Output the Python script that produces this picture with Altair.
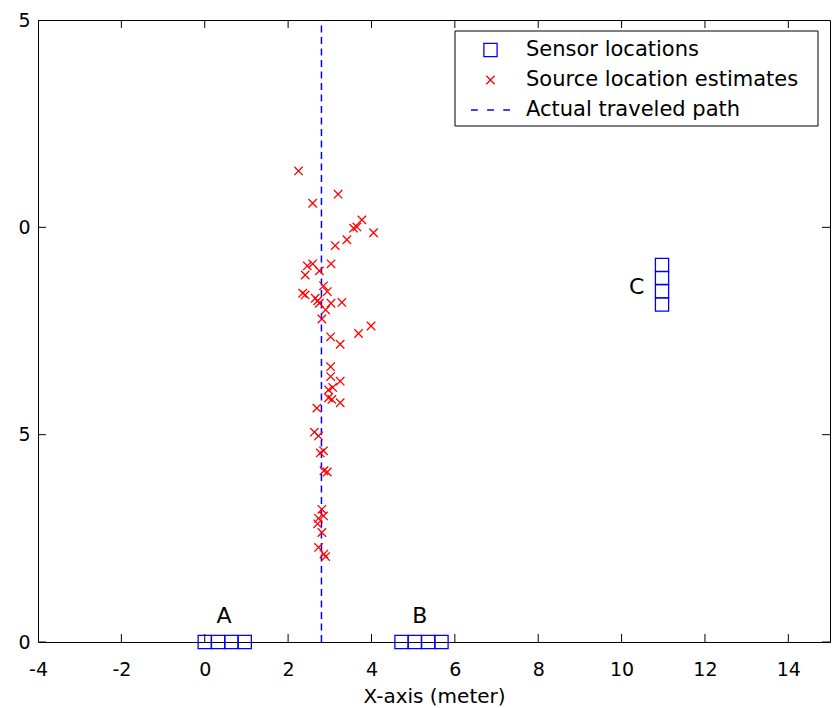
import altair as alt
import pandas as pd

FONT = "DejaVu Sans"

# Sensor arrays: A and B lie on the x-axis, C is stacked vertically near x = 11
sensor_a_x = [0.0, 0.32, 0.64, 0.96]
sensor_b_x = [4.72, 5.04, 5.36, 5.68]
sensor_c_x = 10.97
sensor_c_y = [8.14, 8.46, 8.78, 9.09]

# Estimated source positions (meters)
est_x = [2.25, 3.20, 2.59, 3.77, 3.57, 3.65, 4.05, 3.41, 3.13, 3.03,
         2.59, 2.46, 2.75, 2.41, 2.85, 2.94, 2.35, 2.41, 2.65, 2.71,
         2.75, 3.03, 3.29, 2.90, 2.81, 3.99, 3.69, 3.02, 3.25, 3.02,
         3.02, 3.25, 3.07, 2.97, 2.97, 3.05, 3.25, 2.69, 2.63, 2.73,
         2.77, 2.85, 2.86, 2.94, 2.81, 2.85, 2.73, 2.71, 2.81, 2.73,
         2.86, 2.90]
est_y = [11.36, 10.80, 10.58, 10.18, 9.98, 10.01, 9.87, 9.70, 9.56, 9.12,
         9.12, 9.07, 8.95, 8.85, 8.59, 8.45, 8.41, 8.37, 8.29, 8.23,
         8.17, 8.17, 8.19, 8.01, 7.79, 7.62, 7.44, 7.36, 7.18, 6.64,
         6.40, 6.29, 6.14, 6.08, 5.89, 5.85, 5.77, 5.64, 5.06, 4.97,
         4.56, 4.61, 4.13, 4.10, 3.20, 3.04, 2.98, 2.85, 2.64, 2.28,
         2.12, 2.06]

# Actual path: straight line at x = 2.8 m
path_x = 2.8
path_y = [0, 15]

# Array names and their anchor points
group_names = ["A", "B", "C"]
group_x = [0.46, 5.16, 10.36]
group_y = [0.63, 0.63, 8.57]

x_ticks = [-4, -2, 0, 2, 4, 6, 8, 10, 12, 14]
y_ticks = [0, 5, 10, 15]

series = ["Sensor locations", "Source location estimates", "Actual traveled path"]
series_colors = ["#0000ff", "#ff0000", "#0000ff"]
# Marker outlines in unit coordinates: open square, x-mark, short dashed line
series_shapes = [
    "M-0.44,-0.44L0.44,-0.44L0.44,0.44L-0.44,0.44Z",
    "M-0.28,-0.28L0.28,0.28M0.28,-0.28L-0.28,0.28",
    "M-1.3,0L-0.85,0M-0.225,0L0.225,0M0.85,0L1.3,0",
]

sensor_x = sensor_a_x + sensor_b_x + [sensor_c_x] * len(sensor_c_y)
sensor_y = [0.0] * (len(sensor_a_x) + len(sensor_b_x)) + sensor_c_y

points = pd.DataFrame({
    "x": sensor_x + est_x,
    "y": sensor_y + est_y,
    "series": [series[0]] * len(sensor_x) + [series[1]] * len(est_x),
})
path_df = pd.DataFrame({"x": [path_x], "y": [path_y[0]], "y2": [path_y[1]]})
labels_df = pd.DataFrame({"x": group_x, "y": group_y, "label": group_names})
vticks = pd.DataFrame({"x": x_ticks + x_ticks,
                       "y": [0] * len(x_ticks) + [15] * len(x_ticks)})
hticks = pd.DataFrame({"x": [-4] * len(y_ticks) + [15] * len(y_ticks),
                       "y": y_ticks + y_ticks})

xs = alt.Scale(domain=[-4, 15], nice=False, zero=False)
ys = alt.Scale(domain=[0, 15], nice=False, zero=False)

x_axis = alt.Axis(values=x_ticks, grid=False, ticks=False, domain=False,
                  labelFlush=False, labelOverlap=False, labelFont=FONT,
                  labelFontSize=19, labelColor="black", labelPadding=18,
                  labelExpr="'' + datum.value",
                  titleFont=FONT, titleFontSize=20, titleFontWeight="normal",
                  titleColor="black", titleBaseline="alphabetic", titleY=60)
y_axis = alt.Axis(values=y_ticks, grid=False, ticks=False, domain=False,
                  labelFlush=False, labelOverlap=False, labelFont=FONT,
                  labelFontSize=19, labelColor="black", labelPadding=8,
                  labelExpr="'' + (datum.value % 10)", title=None)

X = alt.X("x:Q", scale=xs, axis=x_axis, title="X-axis (meter)")
Y = alt.Y("y:Q", scale=ys, axis=y_axis)

legend = alt.Legend(
    title=None, orient="none", legendX=417, legendY=12,
    padding=2, symbolOffset=17.5, labelOffset=19.5, rowPadding=4,
    symbolSize=900, symbolStrokeWidth=1.3, symbolFillColor="transparent",
    labelFont=FONT, labelFontSize=21, labelColor="black", labelLimit=500,
)

# Framed white panel behind the legend entries
legend_frame = alt.Chart(pd.DataFrame({"k": [0]})).mark_rect(
    fill="white", stroke="black", strokeWidth=1
).encode(x=alt.value(417), x2=alt.value(780), y=alt.value(11), y2=alt.value(106))

path_layer = alt.Chart(path_df).mark_rule(
    color="#0000ff", strokeWidth=1.5, strokeDash=[7, 4.5]
).encode(x=X, y=Y, y2="y2:Q")

point_layer = alt.Chart(points).mark_point(
    filled=False, size=900, strokeWidth=1.3, opacity=1
).encode(
    x=X, y=Y,
    color=alt.Color("series:N", scale=alt.Scale(domain=series, range=series_colors), legend=legend),
    shape=alt.Shape("series:N", scale=alt.Scale(domain=series, range=series_shapes), legend=legend),
)

text_layer = alt.Chart(labels_df).mark_text(
    font=FONT, fontSize=22, color="black", align="center", baseline="middle"
).encode(x=X, y=Y, text="label:N")

vtick_layer = alt.Chart(vticks).mark_tick(
    orient="vertical", size=16, thickness=1, color="black", clip=True, opacity=1
).encode(x=X, y=Y)

htick_layer = alt.Chart(hticks).mark_tick(
    orient="horizontal", size=16, thickness=1, color="black", clip=True, opacity=1
).encode(x=X, y=Y)

chart = alt.layer(
    path_layer, point_layer, text_layer, vtick_layer, htick_layer, legend_frame
).properties(
    width=792, height=622,
    autosize=alt.AutoSizeParams(type="none"),
    padding={"left": 38, "top": 20, "right": 3, "bottom": 66},
    background="white",
).configure_view(stroke="black", strokeWidth=1)

chart.save("out.html", embed_options={"renderer": "svg", "actions": False})
